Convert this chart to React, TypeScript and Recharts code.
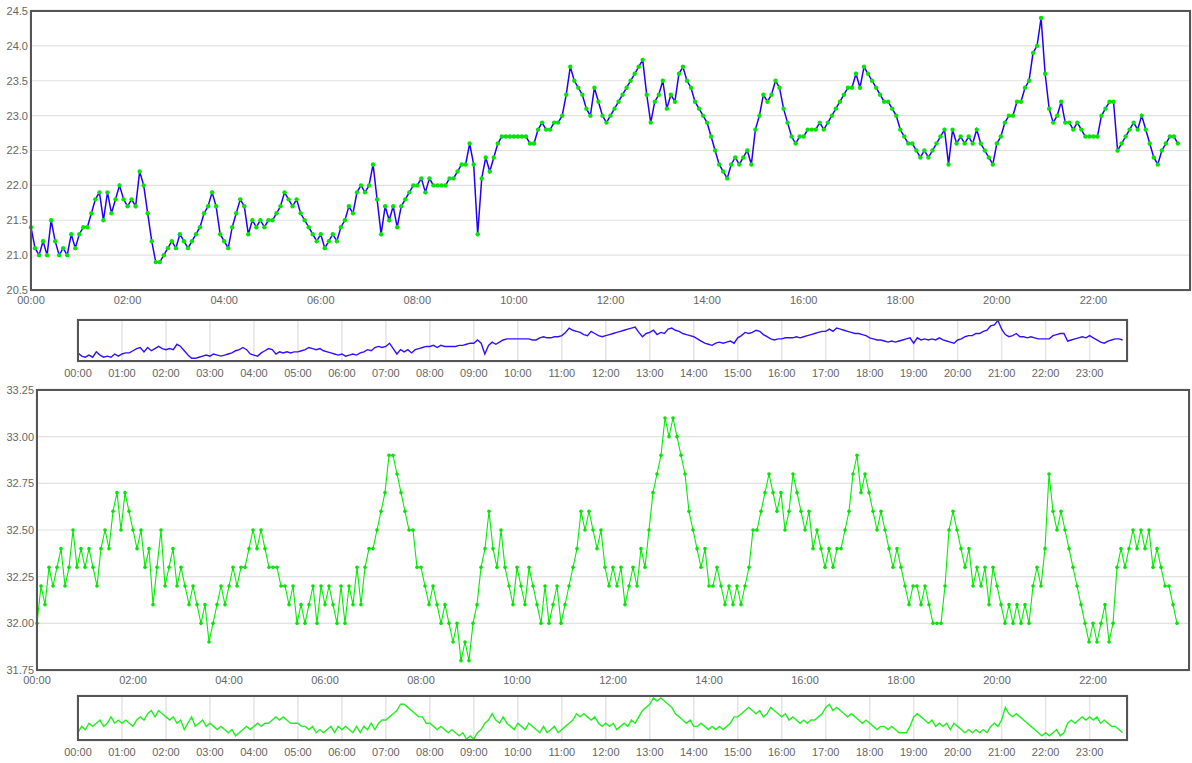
import { LineChart, Line, XAxis, YAxis, CartesianGrid } from 'recharts'

// one reading every 5 minutes, starting at 00:00
const stepMinutes = 5

// top sensor, one row per hour (12 readings)
const temperature = [
  21.4, 21.1, 21.0, 21.2, 21.0, 21.5, 21.2, 21.0, 21.1, 21.0, 21.3, 21.1,
  21.3, 21.4, 21.4, 21.6, 21.8, 21.9, 21.5, 21.9, 21.6, 21.8, 22.0, 21.8,
  21.7, 21.8, 21.7, 22.2, 22.0, 21.6, 21.2, 20.9, 20.9, 21.0, 21.1, 21.2,
  21.1, 21.3, 21.2, 21.1, 21.2, 21.3, 21.4, 21.6, 21.7, 21.9, 21.7, 21.3,
  21.2, 21.1, 21.4, 21.6, 21.8, 21.7, 21.3, 21.5, 21.4, 21.5, 21.4, 21.5,
  21.5, 21.6, 21.7, 21.9, 21.8, 21.7, 21.8, 21.6, 21.5, 21.4, 21.3, 21.2,
  21.3, 21.1, 21.2, 21.3, 21.2, 21.4, 21.5, 21.7, 21.6, 21.9, 22.0, 21.9,
  22.0, 22.3, 21.8, 21.3, 21.7, 21.5, 21.7, 21.4, 21.7, 21.8, 21.9, 22.0,
  22.0, 22.1, 21.9, 22.1, 22.0, 22.0, 22.0, 22.0, 22.1, 22.1, 22.2, 22.3,
  22.3, 22.6, 22.3, 21.3, 22.1, 22.4, 22.2, 22.4, 22.6, 22.7, 22.7, 22.7,
  22.7, 22.7, 22.7, 22.7, 22.6, 22.6, 22.8, 22.9, 22.8, 22.8, 22.9, 22.9,
  23.0, 23.3, 23.7, 23.5, 23.4, 23.3, 23.1, 23.0, 23.4, 23.2, 23.0, 22.9,
  23.0, 23.1, 23.2, 23.3, 23.4, 23.5, 23.6, 23.7, 23.8, 23.3, 22.9, 23.2,
  23.3, 23.5, 23.1, 23.3, 23.2, 23.6, 23.7, 23.5, 23.4, 23.2, 23.1, 23.0,
  22.9, 22.7, 22.5, 22.3, 22.2, 22.1, 22.3, 22.4, 22.3, 22.4, 22.5, 22.3,
  22.8, 23.0, 23.3, 23.2, 23.3, 23.5, 23.4, 23.1, 22.9, 22.7, 22.6, 22.7,
  22.7, 22.8, 22.8, 22.8, 22.9, 22.8, 22.9, 23.0, 23.1, 23.2, 23.3, 23.4,
  23.4, 23.6, 23.4, 23.7, 23.6, 23.5, 23.4, 23.3, 23.2, 23.2, 23.1, 23.0,
  22.8, 22.7, 22.6, 22.6, 22.5, 22.4, 22.5, 22.4, 22.5, 22.6, 22.7, 22.8,
  22.3, 22.8, 22.6, 22.7, 22.6, 22.7, 22.6, 22.8, 22.6, 22.5, 22.4, 22.3,
  22.6, 22.7, 22.9, 23.0, 23.0, 23.2, 23.2, 23.4, 23.5, 23.9, 24.0, 24.4,
  23.6, 23.1, 22.9, 23.0, 23.2, 22.9, 22.9, 22.8, 22.9, 22.8, 22.7, 22.7,
  22.7, 22.7, 23.0, 23.1, 23.2, 23.2, 22.5, 22.6, 22.7, 22.8, 22.9, 22.8,
  23.0, 22.8, 22.6, 22.4, 22.3, 22.5, 22.6, 22.7, 22.7, 22.6,
]

// bottom sensor, one row per hour (12 readings)
const humidity = [
  32.0, 32.2, 32.1, 32.3, 32.2, 32.3, 32.4, 32.2, 32.3, 32.5, 32.3, 32.4,
  32.3, 32.4, 32.3, 32.2, 32.4, 32.5, 32.4, 32.6, 32.7, 32.5, 32.7, 32.6,
  32.5, 32.4, 32.5, 32.3, 32.4, 32.1, 32.3, 32.5, 32.2, 32.3, 32.4, 32.2,
  32.3, 32.2, 32.1, 32.2, 32.1, 32.0, 32.1, 31.9, 32.0, 32.1, 32.2, 32.1,
  32.2, 32.3, 32.2, 32.3, 32.3, 32.4, 32.5, 32.4, 32.5, 32.4, 32.3, 32.3,
  32.3, 32.2, 32.2, 32.1, 32.2, 32.0, 32.1, 32.0, 32.1, 32.2, 32.0, 32.2,
  32.1, 32.2, 32.1, 32.0, 32.2, 32.0, 32.2, 32.1, 32.3, 32.1, 32.3, 32.4,
  32.4, 32.5, 32.6, 32.7, 32.9, 32.9, 32.8, 32.7, 32.6, 32.5, 32.5, 32.3,
  32.3, 32.2, 32.1, 32.2, 32.1, 32.0, 32.1, 32.0, 31.9, 32.0, 31.8, 31.9,
  31.8, 32.0, 32.1, 32.3, 32.4, 32.6, 32.4, 32.3, 32.5, 32.3, 32.2, 32.1,
  32.3, 32.2, 32.1, 32.3, 32.2, 32.1, 32.0, 32.2, 32.0, 32.1, 32.2, 32.0,
  32.1, 32.2, 32.3, 32.4, 32.6, 32.5, 32.6, 32.5, 32.4, 32.5, 32.3, 32.2,
  32.3, 32.2, 32.3, 32.1, 32.2, 32.3, 32.2, 32.4, 32.3, 32.5, 32.7, 32.8,
  32.9, 33.1, 33.0, 33.1, 33.0, 32.9, 32.8, 32.6, 32.5, 32.4, 32.3, 32.4,
  32.2, 32.2, 32.3, 32.2, 32.1, 32.2, 32.1, 32.2, 32.1, 32.2, 32.3, 32.5,
  32.5, 32.6, 32.7, 32.8, 32.7, 32.6, 32.7, 32.5, 32.6, 32.8, 32.7, 32.6,
  32.5, 32.6, 32.4, 32.5, 32.4, 32.3, 32.4, 32.3, 32.4, 32.4, 32.5, 32.6,
  32.8, 32.9, 32.7, 32.8, 32.7, 32.6, 32.5, 32.6, 32.5, 32.4, 32.3, 32.4,
  32.3, 32.2, 32.1, 32.2, 32.2, 32.1, 32.2, 32.1, 32.0, 32.0, 32.0, 32.2,
  32.5, 32.6, 32.5, 32.4, 32.3, 32.4, 32.2, 32.3, 32.2, 32.3, 32.1, 32.3,
  32.2, 32.1, 32.0, 32.1, 32.0, 32.1, 32.0, 32.1, 32.0, 32.2, 32.3, 32.2,
  32.4, 32.8, 32.6, 32.5, 32.6, 32.5, 32.4, 32.3, 32.2, 32.1, 32.0, 31.9,
  32.0, 31.9, 32.0, 32.1, 31.9, 32.0, 32.3, 32.4, 32.3, 32.4, 32.5, 32.4,
  32.5, 32.4, 32.5, 32.3, 32.4, 32.3, 32.2, 32.2, 32.1, 32.0,
]

// axis ticks (minutes since midnight / values)
const mainTimeTicks = [0, 120, 240, 360, 480, 600, 720, 840, 960, 1080, 1200, 1320]
const overviewTimeTicks = [
  0, 60, 120, 180, 240, 300, 360, 420, 480, 540, 600, 660,
  720, 780, 840, 900, 960, 1020, 1080, 1140, 1200, 1260, 1320, 1380,
]
const temperatureTicks = [20.5, 21, 21.5, 22, 22.5, 23, 23.5, 24, 24.5]
const humidityTicks = [31.75, 32, 32.25, 32.5, 32.75, 33, 33.25]

const FONT = '"Liberation Sans", Arial, sans-serif'
const LABEL = '#666'

const hhmm = (m: number) =>
  `${String(Math.floor(m / 60)).padStart(2, '0')}:${String(m % 60).padStart(2, '0')}`

const toRows = (values: number[]) => values.map((v, i) => ({ t: i * stepMinutes, v }))

function Frame({ left, top, width, height }: { left: number; top: number; width: number; height: number }) {
  return (
    <div
      style={{
        position: 'absolute', left, top, width, height, boxSizing: 'border-box',
        border: '2px solid #555', boxShadow: '0 0 1px #aaa', pointerEvents: 'none',
      }}
    />
  )
}

interface MainProps {
  values: number[]
  top: number
  yWidth: number
  right: number
  marginTop: number
  domain: [number, number]
  ticks: number[]
  decimals: number
  line: string
  dot: string
  lineWidth: number
  dotR: number
}

// plot area = 310 - marginTop - 20 (x axis band)
function MainChart({ values, top, yWidth, right, marginTop, domain, ticks, decimals, line, dot, lineWidth, dotR }: MainProps) {
  const data = toRows(values)
  const tick = { fill: LABEL, fontSize: 11, fontFamily: FONT }
  return (
    <div style={{ position: 'absolute', left: 0, top }}>
      <LineChart width={1192} height={310} data={data} margin={{ top: marginTop, right, bottom: 0, left: 0 }}>
        <CartesianGrid vertical={false} stroke="#e2e2e2" strokeWidth={1.2} />
        <XAxis dataKey="t" type="number" domain={[0, 1440]} ticks={mainTimeTicks} interval={0}
          tickFormatter={hhmm} axisLine={false} tickLine={false} tickSize={0} tickMargin={6} height={20} tick={tick} />
        <YAxis type="number" domain={domain} ticks={ticks} interval={0} allowDataOverflow
          tickFormatter={(v: number) => v.toFixed(decimals)} axisLine={false} tickLine={false}
          tickSize={0} tickMargin={3} width={yWidth} tick={tick} />
        <Line dataKey="v" type="linear" stroke="none" isAnimationActive={false}
          dot={{ r: dotR, fill: dot, stroke: 'none' }} activeDot={false} />
        <Line dataKey="v" type="linear" stroke={line} strokeWidth={lineWidth} dot={false} isAnimationActive={false} activeDot={false} />
      </LineChart>
    </div>
  )
}

interface OverviewProps {
  values: number[]
  top: number
  marginTop: number
  plotHeight: number
  domain: [number, number]
  color: string
}

function OverviewChart({ values, top, marginTop, plotHeight, domain, color }: OverviewProps) {
  const data = toRows(values)
  return (
    <div style={{ position: 'absolute', left: 0, top }}>
      <LineChart width={1192} height={90} data={data}
        margin={{ top: marginTop, right: 65, bottom: 0, left: 78 }}>
        <CartesianGrid horizontal={false} stroke="#e4e4e4" strokeWidth={1.5} />
        <XAxis dataKey="t" type="number" domain={[0, 1431]} ticks={overviewTimeTicks} interval={0}
          tickFormatter={hhmm} axisLine={false} tickLine={false} tickSize={0} tickMargin={8}
          height={90 - marginTop - plotHeight} tick={{ fill: LABEL, fontSize: 11, fontFamily: FONT }} />
        <YAxis hide type="number" domain={domain} allowDataOverflow />
        <Line dataKey="v" type="linear" stroke={color} strokeWidth={1.4} dot={false} isAnimationActive={false} activeDot={false} />
      </LineChart>
    </div>
  )
}

export default function App() {
  return (
    <div style={{ position: 'absolute', left: 0, top: 0, width: 1192, height: 763, background: '#fff', fontFamily: FONT }}>
      <MainChart values={temperature} top={0} yWidth={31} right={2} marginTop={11}
        domain={[20.5, 24.5]} ticks={temperatureTicks} decimals={1}
        line="#2200ff" dot="#00e600" lineWidth={1.5} dotR={2.2} />
      <Frame left={30} top={10} width={1161} height={281} />

      <OverviewChart values={temperature} top={300} marginTop={20} plotHeight={41}
        domain={[20.65, 24.45]} color="#3311ff" />
      <Frame left={77} top={319} width={1051} height={43} />

      <MainChart values={humidity} top={380} yWidth={37} right={3} marginTop={10}
        domain={[31.75, 33.25]} ticks={humidityTicks} decimals={2}
        line="#00ee00" dot="#00e600" lineWidth={1.1} dotR={1.8} />
      <Frame left={36} top={389} width={1154} height={282} />

      <OverviewChart values={humidity} top={680} marginTop={16} plotHeight={44}
        domain={[31.77, 33.16]} color="#22ee22" />
      <Frame left={77} top={695} width={1051} height={46} />
    </div>
  )
}
